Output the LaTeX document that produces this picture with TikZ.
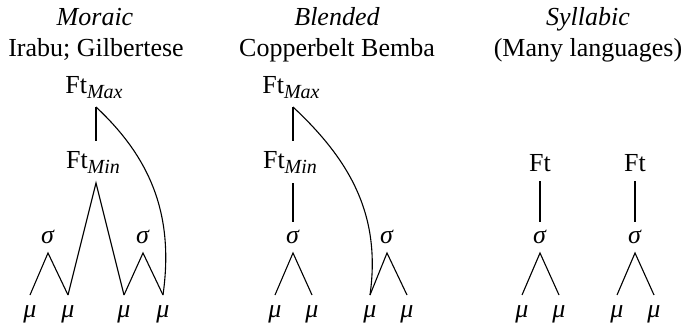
\documentclass[tikz,border=0pt]{standalone}
\usepackage{fontspec}
\setmainfont{Liberation Serif}
\usetikzlibrary{calc}
\newcommand{\mysub}[1]{\raisebox{-2.6pt}{\fontsize{10}{11}\selectfont\textit{#1}}}
\begin{document}
\begin{tikzpicture}[x=0.5pt,y=-0.5pt,
  every node/.style={font=\fontsize{13}{15}\selectfont, inner sep=0pt, anchor=base},
  br/.style={line width=0.55pt}]
\useasboundingbox (0,0) rectangle (684,326);
% ---- titles
\node (tA1) at (95,26) {\textit{Moraic}};
\node (tA2) at (96,57) {Irabu; Gilbertese};
\node (tB1) at (337,26) {\textit{Blended}};
\node (tB2) at (337,57) {Copperbelt Bemba};
\node (tC1) at (588,26) {\textit{Syllabic}};
\node (tC2) at (588,57) {(Many languages)};
% ---- Moraic
\node (fmaxA) at (94,93) {Ft\mysub{Max}};
\node (fminA) at (93,168) {Ft\mysub{Min}};
\node (sA1) at (48,243) {\textit{σ}};
\node (sA2) at (143,243) {\textit{σ}};
\node (mA1) at (30,317) {\textit{μ}};
\node (mA2) at (68,317) {\textit{μ}};
\node (mA3) at (124,317) {\textit{μ}};
\node (mA4) at (163,317) {\textit{μ}};
\draw[br] ($(fmaxA.base)+(2,14)$) -- ($(fminA.base)+(3,-27)$);
\draw[br] ($(mA2.base)+(0,-22)$) -- ($(fminA.base)+(3,15)$) -- ($(mA3.base)+(0,-22)$);
\draw[br] ($(mA1.base)+(0,-22)$) -- ($(sA1.base)+(0,10)$) -- ($(mA2.base)+(0,-22)$);
\draw[br] ($(mA3.base)+(0,-22)$) -- ($(sA2.base)+(0,10)$) -- ($(mA4.base)+(0,-22)$);
\draw[br] ($(fmaxA.base)+(2,14)$) to[out=-43,in=82] ($(mA4.base)+(0,-22)$);
% ---- Blended
\node (fmaxB) at (291,93) {Ft\mysub{Max}};
\node (fminB) at (290,168) {Ft\mysub{Min}};
\node (sB1) at (293,243) {\textit{σ}};
\node (sB2) at (387,243) {\textit{σ}};
\node (mB1) at (275,317) {\textit{μ}};
\node (mB2) at (312,317) {\textit{μ}};
\node (mB3) at (370,317) {\textit{μ}};
\node (mB4) at (407,317) {\textit{μ}};
\draw[br] ($(fmaxB.base)+(2,14)$) -- ($(fminB.base)+(3,-27)$);
\draw[br] ($(fminB.base)+(3,15)$) -- ($(sB1.base)+(0,-21)$);
\draw[br] ($(mB1.base)+(0,-22)$) -- ($(sB1.base)+(0,10)$) -- ($(mB2.base)+(0,-22)$);
\draw[br] ($(mB3.base)+(0,-22)$) -- ($(sB2.base)+(0,10)$) -- ($(mB4.base)+(0,-22)$);
\draw[br] ($(fmaxB.base)+(2,14)$) to[out=-43,in=82] ($(mB3.base)+(0,-22)$);
% ---- Syllabic
\node (fC1) at (540,171) {Ft};
\node (fC2) at (635,171) {Ft};
\node (sC1) at (540,243) {\textit{σ}};
\node (sC2) at (635,243) {\textit{σ}};
\node (mC1) at (522,317) {\textit{μ}};
\node (mC2) at (559,317) {\textit{μ}};
\node (mC3) at (617,317) {\textit{μ}};
\node (mC4) at (654,317) {\textit{μ}};
\draw[br] ($(fC1.base)+(0,10)$) -- ($(sC1.base)+(0,-21)$);
\draw[br] ($(fC2.base)+(0,10)$) -- ($(sC2.base)+(0,-21)$);
\draw[br] ($(mC1.base)+(0,-22)$) -- ($(sC1.base)+(0,10)$) -- ($(mC2.base)+(0,-22)$);
\draw[br] ($(mC3.base)+(0,-22)$) -- ($(sC2.base)+(0,10)$) -- ($(mC4.base)+(0,-22)$);
\end{tikzpicture}
\end{document}
